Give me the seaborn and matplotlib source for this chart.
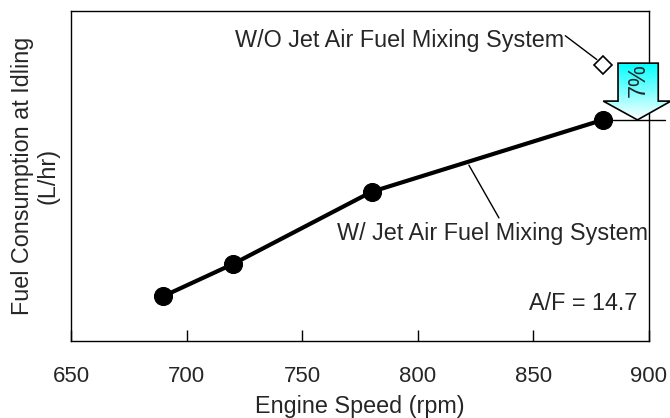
import matplotlib
matplotlib.use('Agg')
import matplotlib.pyplot as plt
import numpy as np
import pandas as pd
import seaborn as sns
from matplotlib.colors import LinearSegmentedColormap
from matplotlib.patches import Polygon

# Data (fuel consumption in relative units)
speed = [690, 720, 780, 880]
fuel_with_jet = [0.136, 0.233, 0.452, 0.670]
speed_without = [880]
fuel_without_jet = [0.836]
x_ticks = [650, 700, 750, 800, 850, 900]

df = pd.DataFrame({'speed': speed, 'fuel': fuel_with_jet})

sns.set_style('white')
plt.rcParams['font.family'] = ['Liberation Sans', 'DejaVu Sans']
FS = 16.8

fig = plt.figure(figsize=(6.7, 4.18), dpi=100)
ax = fig.add_axes([71 / 670, 1 - 341 / 418, 578 / 670, 330 / 418])

# W/ jet line
sns.lineplot(data=df, x='speed', y='fuel', ax=ax, color='black', linewidth=3,
             marker='o', markersize=13, markeredgecolor='black', zorder=4)

# W/O jet point (hollow diamond)
ax.plot(speed_without, fuel_without_jet, marker='D', markersize=9.5,
        markerfacecolor='white', markeredgecolor='black', markeredgewidth=1.2,
        linestyle='none', zorder=6, clip_on=False)

ax.set_xlim(650, 900)
ax.set_ylim(0, 1)
ax.set_xticks(x_ticks)
ax.set_yticks([])
ax.tick_params(axis='x', direction='in', length=8, width=1, color='black',
               labelsize=16, pad=18, top=False, bottom=True)
for s in ax.spines.values():
    s.set_color('black')
    s.set_linewidth(1)

ax.set_xlabel('Engine Speed (rpm)', fontsize=FS, labelpad=6)
ax.set_ylabel('Fuel Consumption at Idling\n(L/hr)', fontsize=FS, labelpad=8,
              linespacing=1.15)

# 7% block arrow with cyan gradient
top_y = fuel_without_jet[0] + 0.006
base_y = 0.727
tip_y = fuel_with_jet[-1]
arrow_pts = [(886.6, top_y), (904.0, top_y), (904.0, base_y), (909.5, base_y),
             (895.0, tip_y), (880.2, base_y), (886.6, base_y)]
poly = Polygon(arrow_pts, closed=True, facecolor='none', edgecolor='black',
               linewidth=1.2, zorder=7, clip_on=False)
ax.add_patch(poly)
cmap = LinearSegmentedColormap.from_list('cy', ['white', '#00ffff'])
grad = np.linspace(1, 0, 256).reshape(-1, 1)
im = ax.imshow(grad, extent=[880.2, 909.5, tip_y, top_y], aspect='auto',
               cmap=cmap, origin='upper', zorder=5, interpolation='bilinear')
im.set_clip_path(poly)
im.set_clip_box(fig.bbox)
ax.set_xlim(650, 900)
ax.set_ylim(0, 1)
ax.text(895.3, 0.79, '7%', rotation=90, fontsize=FS, ha='center', va='center',
        zorder=8, clip_on=False)

# reference line at the W/ level
ax.plot([884, 907], [fuel_with_jet[-1], fuel_with_jet[-1]], color='black',
        linewidth=1, zorder=6, clip_on=False)

# labels with leader lines
ax.text(863.5, 0.91, 'W/O Jet Air Fuel Mixing System', fontsize=FS,
        ha='right', va='center')
ax.plot([863.8, 877.4], [0.925, 0.853], color='black', linewidth=1, zorder=5)

ax.text(899.5, 0.327, 'W/ Jet Air Fuel Mixing System', fontsize=FS,
        ha='right', va='center')
ax.plot([822.1, 835.1], [0.533, 0.373], color='black', linewidth=1, zorder=3)

ax.text(895, 0.115, 'A/F = 14.7', fontsize=FS, ha='right', va='center')

fig.savefig('out.png', dpi=100)
